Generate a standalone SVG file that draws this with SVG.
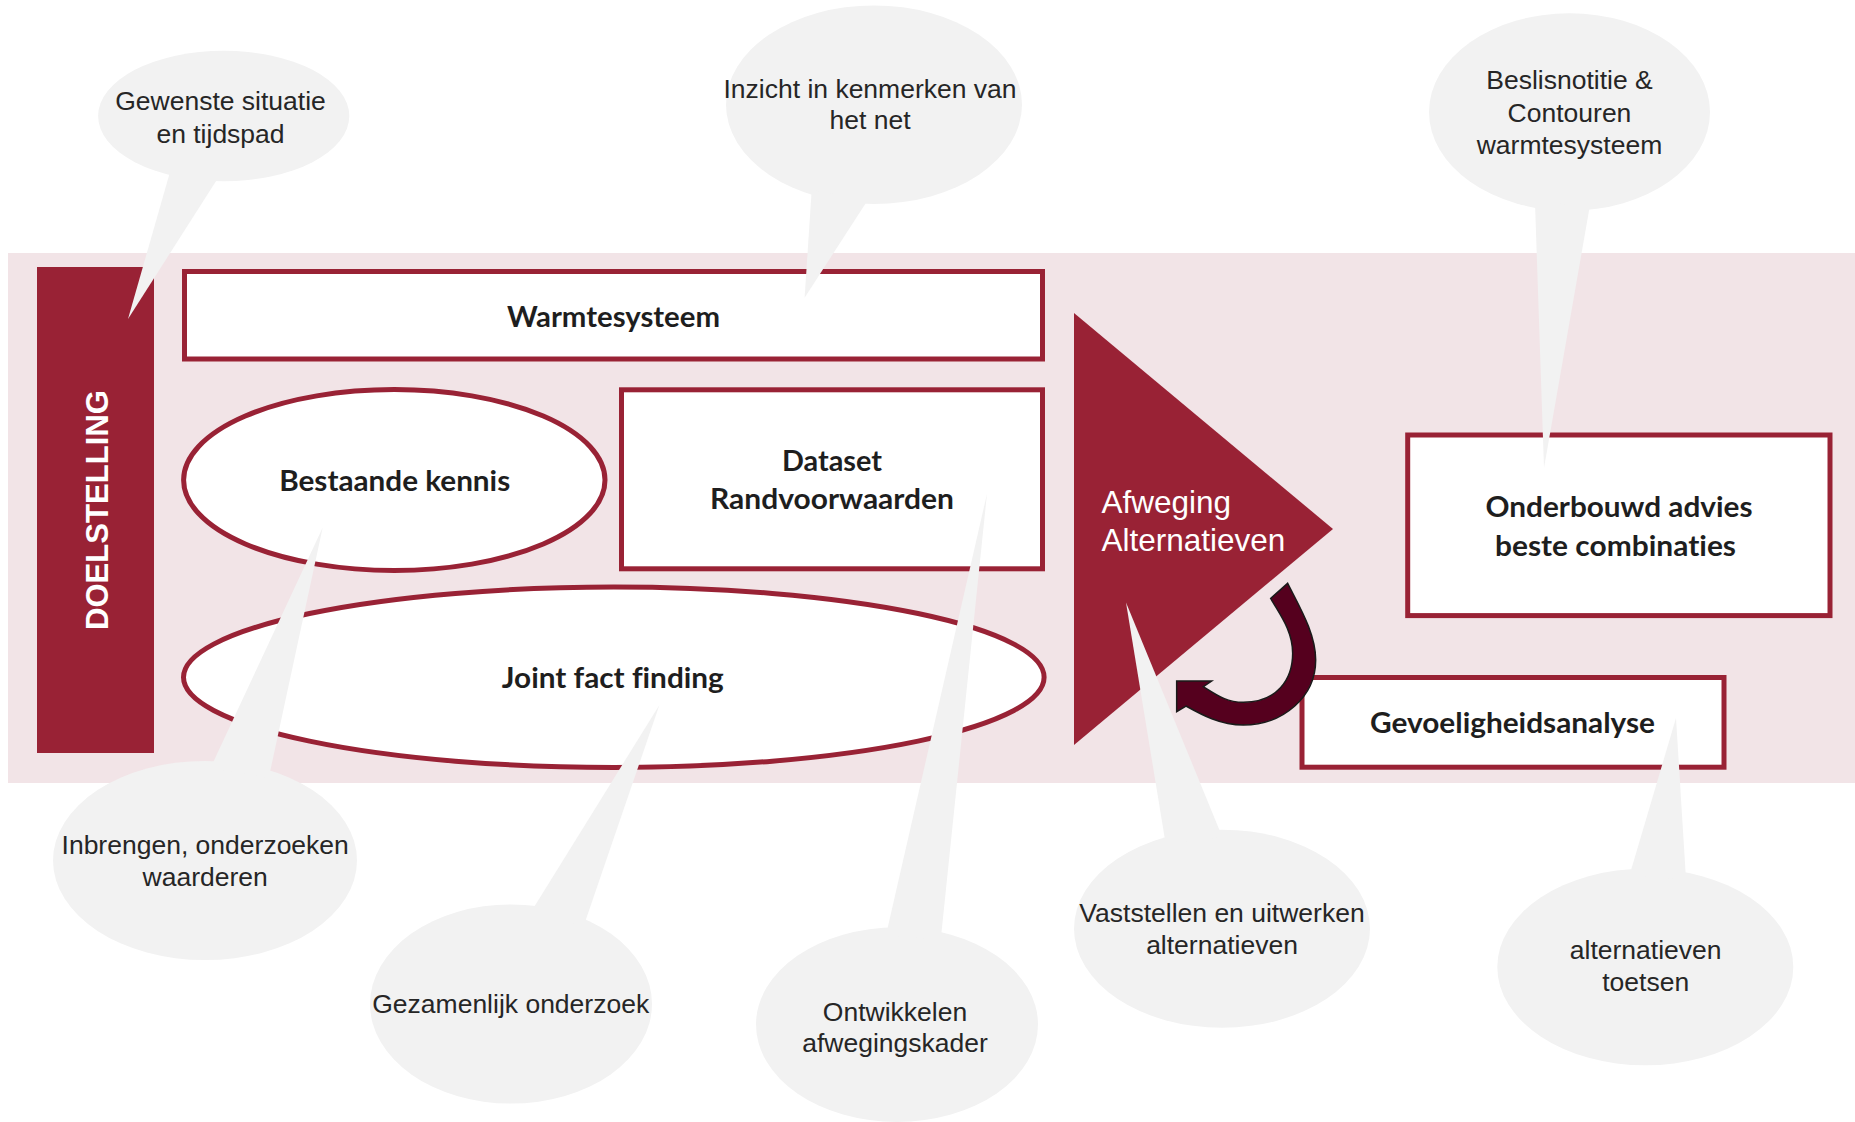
<svg xmlns="http://www.w3.org/2000/svg" width="1855" height="1122" viewBox="0 0 1855 1122">
<style>
.band{fill:#f2e4e7}
.bar{fill:#992235}
.box{fill:#ffffff;stroke:#992235;stroke-width:5}
.callout{fill:#f2f2f2}
.ct{font-family:"Liberation Sans",Arial,sans-serif;font-size:26.5px;fill:#262626;text-anchor:middle}
.bt{font-family:Lato,"Liberation Sans",sans-serif;font-weight:700;font-size:29px;fill:#1e1e1e;text-anchor:middle;font-variant-ligatures:none}
.wt{font-family:"Liberation Sans",Arial,sans-serif;font-size:31.5px;fill:#ffffff}
.arrow{fill:#55001e;stroke:#1a1a1a;stroke-width:1.5;stroke-linejoin:miter}
</style>
<rect width="1855" height="1122" fill="#ffffff"/>
<rect class="band" x="8" y="253" width="1847" height="530"/>

<g id="doelstelling">
<rect class="bar" x="37" y="267" width="117" height="486"/>
<text class="wt" transform="translate(107.5,510) rotate(-90)" text-anchor="middle" font-size="30.5" font-weight="700" textLength="240" lengthAdjust="spacingAndGlyphs">DOELSTELLING</text>
</g>

<g id="warmtesysteem">
<rect class="box" x="184.5" y="271.5" width="858" height="87.5"/>
<text class="bt" x="613.5" y="326.5" textLength="213" lengthAdjust="spacingAndGlyphs">Warmtesysteem</text>
</g>

<g id="bestaande-kennis">
<ellipse class="box" cx="394.3" cy="480" rx="210.7" ry="90.5"/>
<text class="bt" x="394.7" y="490.5" textLength="231" lengthAdjust="spacingAndGlyphs">Bestaande kennis</text>
</g>

<g id="dataset">
<rect class="box" x="621.5" y="389.8" width="421" height="179"/>
<text class="bt" x="832" y="470.7" textLength="100" lengthAdjust="spacingAndGlyphs">Dataset</text>
<text class="bt" x="832" y="509" textLength="244" lengthAdjust="spacingAndGlyphs">Randvoorwaarden</text>
</g>

<g id="joint-fact-finding">
<ellipse class="box" cx="613.8" cy="677.3" rx="430.3" ry="90.2"/>
<text class="bt" x="612.8" y="688" textLength="222" lengthAdjust="spacingAndGlyphs">Joint fact finding</text>
</g>

<g id="afweging">
<polygon class="bar" points="1074,313 1333,529 1074,745"/>
<text class="wt" x="1101.4" y="513">Afweging</text>
<text class="wt" x="1101.4" y="551">Alternatieven</text>
</g>

<g id="onderbouwd-advies">
<rect class="box" x="1407.7" y="435" width="422.3" height="180.6"/>
<text class="bt" x="1619" y="516.8" textLength="267" lengthAdjust="spacingAndGlyphs">Onderbouwd advies</text>
<text class="bt" x="1615.5" y="555.5" textLength="241" lengthAdjust="spacingAndGlyphs">beste combinaties</text>
</g>

<g id="gevoeligheidsanalyse">
<rect class="box" x="1302" y="677.5" width="422" height="89.7"/>
<text class="bt" x="1512.5" y="733" textLength="285" lengthAdjust="spacingAndGlyphs">Gevoeligheidsanalyse</text>
</g>

<g id="connectors">
<path class="arrow" d="M1287.67,583.33 C1299.33,606.67 1315.67,633.33 1315.67,660 C1315.67,696.67 1283.33,725 1243.33,725 C1220,725 1201,714.33 1186,706 L1176.67,711.67 L1176.67,681 L1211.67,681 L1203.33,686.67 C1216.67,695 1226.67,702.33 1243.33,702.33 C1276.67,702.33 1292.67,680 1292.67,653.33 C1292.67,630 1279,613.33 1270.67,598.33 Z"/>
</g>

<g id="callout-gewenste">
<ellipse class="callout" cx="223.7" cy="116" rx="125.6" ry="65.3"/>
<polygon class="callout" points="170,172 218,178 128,319"/>
<text class="ct" x="220.5" y="110" font-size="27.5">Gewenste situatie</text>
<text class="ct" x="220.5" y="142.5" font-size="27.5">en tijdspad</text>
</g>

<g id="callout-inzicht">
<ellipse class="callout" cx="874" cy="104.7" rx="148" ry="99.3"/>
<polygon class="callout" points="811.7,190 867.8,200 804.6,297.7"/>
<text class="ct" x="870" y="97.6">Inzicht in kenmerken van</text>
<text class="ct" x="870" y="129.4">het net</text>
</g>

<g id="callout-beslisnotitie">
<ellipse class="callout" cx="1569.5" cy="112" rx="140.5" ry="98.7"/>
<polygon class="callout" points="1535,203 1590,205 1544,468"/>
<text class="ct" x="1569.5" y="89.3">Beslisnotitie &amp;</text>
<text class="ct" x="1569.5" y="121.7">Contouren</text>
<text class="ct" x="1569.5" y="154">warmtesysteem</text>
</g>

<g id="callout-inbrengen">
<ellipse class="callout" cx="205" cy="860.5" rx="152" ry="99.6"/>
<polygon class="callout" points="210.5,768 268.7,778 322.7,527.4"/>
<text class="ct" x="205.2" y="853.5">Inbrengen, onderzoeken</text>
<text class="ct" x="205.2" y="886.4">waarderen</text>
</g>

<g id="callout-gezamenlijk">
<ellipse class="callout" cx="511" cy="1004" rx="141" ry="99.6"/>
<polygon class="callout" points="531,912 583.7,926 659.4,705"/>
<text class="ct" x="510.7" y="1012.6">Gezamenlijk onderzoek</text>
</g>

<g id="callout-ontwikkelen">
<ellipse class="callout" cx="897" cy="1024.6" rx="141" ry="97.3"/>
<polygon class="callout" points="886,935 940.7,940 987,493.7"/>
<text class="ct" x="895" y="1020.6">Ontwikkelen</text>
<text class="ct" x="895" y="1051.6">afwegingskader</text>
</g>

<g id="callout-vaststellen">
<ellipse class="callout" cx="1222" cy="928.7" rx="148" ry="99"/>
<polygon class="callout" points="1165.7,844 1222.3,837 1126,602.5"/>
<text class="ct" x="1222" y="922">Vaststellen en uitwerken</text>
<text class="ct" x="1222" y="953.7">alternatieven</text>
</g>

<g id="callout-toetsen">
<ellipse class="callout" cx="1645.3" cy="967" rx="148" ry="98.3"/>
<polygon class="callout" points="1629.3,876 1686,879 1676,718"/>
<text class="ct" x="1645.7" y="959.3">alternatieven</text>
<text class="ct" x="1645.7" y="991.3">toetsen</text>
</g>
</svg>
